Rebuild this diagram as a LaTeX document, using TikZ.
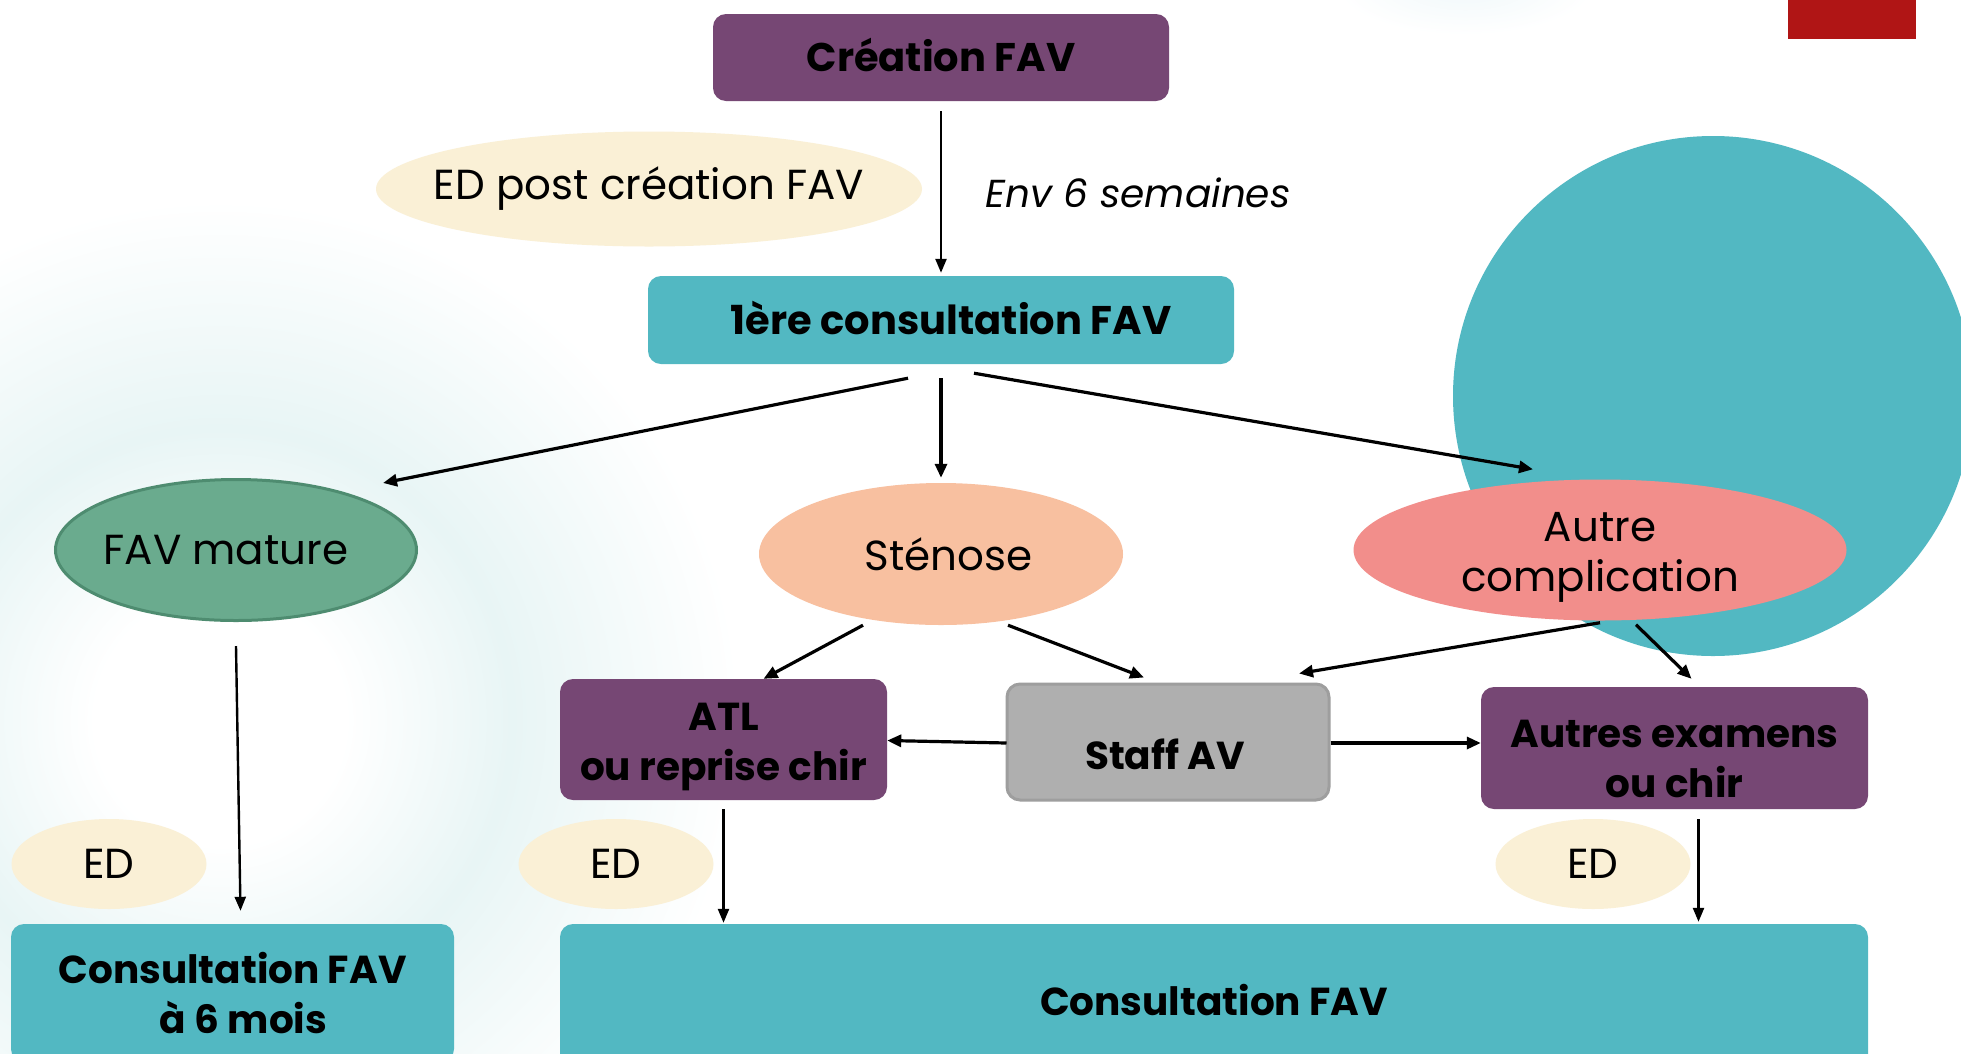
\documentclass[tikz,border=0pt]{standalone}
\usepackage{fontspec}
\setmainfont{Poppins}
\usetikzlibrary{arrows.meta,calc,shapes.geometric}
\definecolor{purpleC}{RGB}{118,71,116}
\definecolor{tealC}{RGB}{82,184,194}
\definecolor{creamC}{RGB}{250,240,214}
\definecolor{greenC}{RGB}{106,171,142}
\definecolor{greenD}{RGB}{78,140,112}
\definecolor{peachC}{RGB}{248,192,160}
\definecolor{salmonC}{RGB}{242,142,139}
\definecolor{grayC}{RGB}{175,175,175}
\definecolor{grayD}{RGB}{158,158,158}
\definecolor{redC}{RGB}{176,21,21}
\definecolor{glowC}{RGB}{232,245,245}
\definecolor{glowT}{RGB}{240,248,250}
\pgfdeclareradialshading{glowring}{\pgfpoint{0bp}{0bp}}{color(0bp)=(white); color(6bp)=(white); color(14bp)=(glowC); color(25bp)=(white); color(50bp)=(white)}
\begin{document}
\begin{tikzpicture}[x=1pt,y=-1pt,
  box/.style={rectangle, rounded corners=13pt, inner sep=0pt, align=center,
    font=\bfseries\fontsize{39}{50}\selectfont},
  pbox/.style={box, fill=purpleC},
  tbox/.style={box, fill=tealC},
  ell/.style={ellipse, inner sep=0pt, align=center, font=\fontsize{42}{50}\selectfont},
  btxt/.style={inner sep=0pt, align=center, font=\bfseries\fontsize{39}{50}\selectfont},
  rtxt/.style={inner sep=0pt, align=center, font=\fontsize{42}{50}\selectfont},
  arr/.style={-{Triangle[length=14pt,width=12pt]}, line width=3.2pt},
  tarr/.style={-{Triangle[length=14pt,width=11pt]}, line width=2.4pt}]
\clip (0,0) rectangle (1961,1053);
\fill[white] (0,0) rectangle (1961,1053);
% background decorations
\shade[shading=glowring] (220,720) circle (520);
\shade[inner color=glowT, outer color=white] (1465,-15) ellipse (130 and 50);
\fill[tealC] (1713,396) circle (260);
\fill[redC] (1788,0) rectangle (1916,39);
% nodes
\node[pbox, font=\bfseries\fontsize{40}{50}\selectfont, text height=28pt, text depth=0pt, minimum width=456, minimum height=87] (cre) at (941,57.5) {Création FAV};
\node[ell, fill=creamC, minimum width=546, minimum height=115] (edp) at (649,189) {};
\node[rtxt] (edpt) at (649,189) {ED post création FAV};
\node[inner sep=0pt, font=\itshape\fontsize{39}{46}\selectfont] (env) at (1138,193) {Env 6 semaines};
\node[tbox, font=\bfseries\fontsize{40}{50}\selectfont, text height=28pt, text depth=0pt, minimum width=586, minimum height=88] (c1) at (941,320) {\hspace*{20pt}1ère consultation FAV};
\node[ell, fill=greenC, draw=greenD, line width=3pt, minimum width=361, minimum height=141] (fav) at (236,550) {\hspace*{-20pt}FAV mature};
\node[ell, fill=peachC, minimum width=364, minimum height=142] (sten) at (941,554) {\hspace*{15pt}Sténose};
\node[ell, fill=salmonC, minimum width=493, minimum height=141] (autre) at (1600,550) {};
\node[rtxt] (autret) at (1600,557.5) {Autre\\complication};
\node[pbox, minimum width=327, minimum height=121] (atl) at (723.5,739.5) {};
\node[btxt] (atlt) at (723.5,747) {ATL\\ou reprise chir};
\node[box, fill=grayC, draw=grayD, line width=3pt, minimum width=322, minimum height=116] (staff) at (1168,742) {};
\node[btxt] (stafft) at (1165,754) {Staff AV};
\node[pbox, minimum width=387, minimum height=122] (ae) at (1674.5,748) {};
\node[btxt] (aet) at (1674.5,759) {Autres examens\\ou chir};
\node[ell, fill=creamC, minimum width=195, minimum height=90] (ed1) at (109,864) {ED};
\node[ell, fill=creamC, minimum width=195, minimum height=90] (ed2) at (616,864) {ED};
\node[ell, fill=creamC, minimum width=195, minimum height=90] (ed3) at (1593,864) {ED};
\node[tbox, minimum width=443, minimum height=138] (c6) at (232.5,993) {Consultation FAV\\\hspace*{22pt}à 6 mois};
\node[tbox, minimum width=1308, minimum height=152] (cf) at (1214,1000) {Consultation FAV};
% connectors
\draw[tarr] ($(cre.south)+(0,10)$) -- ($(c1.north)+(0,-3)$);
\draw[arr] ($(c1.south)+(-33,14)$) -- ($(fav.north)+(147,5)$);
\draw[arr] ($(c1.south)+(0,14)$) -- ($(sten.north)+(0,-5)$);
\draw[arr] ($(c1.south)+(33,9)$) -- ($(autre.north)+(-67,-10)$);
\draw[tarr] ($(fav.south)+(0,24)$) -- ($(c6.north)+(8,-13)$);
\draw[arr] ($(sten.south)+(-78,0)$) -- ($(atl.north)+(40,0)$);
\draw[arr] ($(sten.south)+(67,0)$) -- ($(staff.north)+(-24,-5)$);
\draw[arr] ($(autre.south)+(0,2)$) -- ($(staff.north)+(131,-9)$);
\draw[arr] ($(autre.south)+(36,4)$) -- ($(ae.north)+(17,-8)$);
\draw[arr] ($(staff.west)+(1,1)$) -- ($(atl.east)+(0,1)$);
\draw[arr] ($(staff.east)+(0,1)$) -- ($(staff.east -| ae.west)+(0,1)$);
\draw[tarr] ($(atl.south)+(0,9)$) -- ($(atl.south |- cf.north)+(0,-1)$);
\draw[tarr] ($(ae.south)+(24,10)$) -- ($(ae.south |- cf.north)+(24,-2)$);
\end{tikzpicture}
\end{document}
